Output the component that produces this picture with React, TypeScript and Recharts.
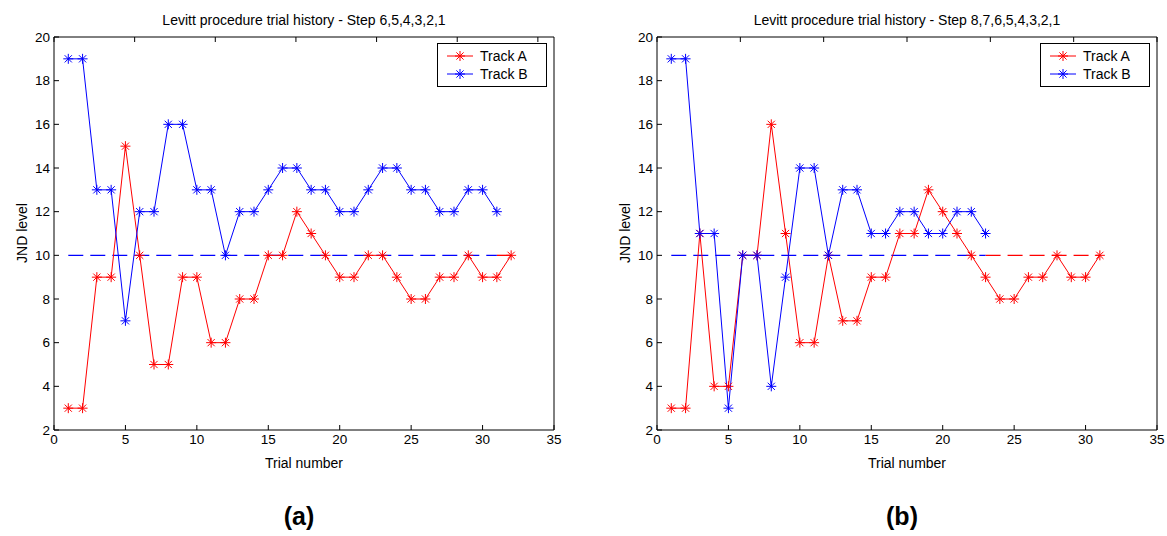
import React from "react";
import { LineChart, Line, XAxis, YAxis, ReferenceLine, Legend } from "recharts";

// trial-by-trial JND level, panel (a): step 6,5,4,3,2,1
const trackA_a = [3, 3, 9, 9, 15, 10, 5, 5, 9, 9, 6, 6, 8, 8, 10, 10, 12, 11, 10, 9, 9, 10, 10, 9, 8, 8, 9, 9, 10, 9, 9, 10];
const trackB_a = [19, 19, 13, 13, 7, 12, 12, 16, 16, 13, 13, 10, 12, 12, 13, 14, 14, 13, 13, 12, 12, 13, 14, 14, 13, 13, 12, 12, 13, 13, 12];

// panel (b): step 8,7,6,5,4,3,2,1
const trackA_b = [3, 3, 11, 4, 4, 10, 10, 16, 11, 6, 6, 10, 7, 7, 9, 9, 11, 11, 13, 12, 11, 10, 9, 8, 8, 9, 9, 10, 9, 9, 10];
const trackB_b = [19, 19, 11, 11, 3, 10, 10, 4, 9, 14, 14, 10, 13, 13, 11, 11, 12, 12, 11, 11, 12, 12, 11];

const X_TICKS = [0, 5, 10, 15, 20, 25, 30, 35];
const Y_TICKS = [2, 4, 6, 8, 10, 12, 14, 16, 18, 20];
const TARGET_LEVEL = 10;

const RED = "#ff0000";
const BLUE = "#0000ff";
const FONT = '"Liberation Sans", Arial, sans-serif';

const W = 564;
const H = 480;
// plot area: left 54, top 37, right 554, bottom 430 (panel coords)
const AX = { left: 40, right: 6, top: 10, bottom: 30 };
const M = { top: 37 - AX.top, right: W - 554 - AX.right, bottom: H - 430 - AX.bottom, left: 54 - AX.left };

function buildRows(a: number[], b: number[]) {
    const n = Math.max(a.length, b.length);
    const rows: any[] = [];
    for (let i = 0; i < n; i++) {
        rows.push({ trial: i + 1, a: a[i], b: b[i] });
    }
    return rows;
}

function Star({ cx, cy, color }: { cx?: number; cy?: number; color: string }) {
    if (cx == null || cy == null || isNaN(cx) || isNaN(cy)) return <g />;
    const r = 5;
    const d = 3.6;
    return (
        <g stroke={color} strokeWidth={1}>
            <line x1={cx - r} y1={cy} x2={cx + r} y2={cy} />
            <line x1={cx} y1={cy - r} x2={cx} y2={cy + r} />
            <line x1={cx - d} y1={cy - d} x2={cx + d} y2={cy + d} />
            <line x1={cx - d} y1={cy + d} x2={cx + d} y2={cy - d} />
        </g>
    );
}

const starDot = (color: string) => (props: any) => (
    <Star key={`s-${props.index}`} cx={props.cx} cy={props.cy} color={color} />
);

function LegendBox({ payload }: any) {
    return (
        <div
            style={{
                width: 110,
                height: 44,
                border: "1px solid #000",
                background: "#fff",
                fontFamily: FONT,
                fontSize: 14,
                paddingTop: 3,
                boxSizing: "border-box",
            }}
        >
            {(payload || []).map((p: any) => (
                <div key={p.value} style={{ display: "flex", alignItems: "center", height: 18 }}>
                    <svg width={42} height={14} style={{ marginLeft: 8 }}>
                        <line x1={1} y1={7} x2={27} y2={7} stroke={p.color} strokeWidth={1} />
                        <Star cx={14} cy={7} color={p.color} />
                    </svg>
                    <span style={{ marginLeft: -8 }}>{p.value}</span>
                </div>
            ))}
        </div>
    );
}

const tickStyle = { fill: "#000", fontSize: 13.5, fontFamily: FONT };

function Panel({ left, title, tag, trackA, trackB }: any) {
    const rows = buildRows(trackA, trackB);
    // red target line shows where the blue one (drawn over it) has ended
    const redStart = Math.min(trackA.length, trackB.length);
    return (
        <div style={{ position: "absolute", left, top: 0, width: W, height: 536 }}>
            <div
                style={{
                    position: "absolute",
                    left: 54,
                    top: 11,
                    width: 500,
                    textAlign: "center",
                    fontFamily: FONT,
                    fontSize: 14,
                    lineHeight: "18px",
                    whiteSpace: "nowrap",
                }}
            >
                {title}
            </div>
            <div
                style={{
                    position: "absolute",
                    left: 22 - 100,
                    top: 233 - 9,
                    width: 200,
                    height: 18,
                    textAlign: "center",
                    transform: "rotate(-90deg)",
                    fontFamily: FONT,
                    fontSize: 14,
                    lineHeight: "18px",
                }}
            >
                JND level
            </div>
            <div
                style={{
                    position: "absolute",
                    left: 54,
                    top: 454,
                    width: 500,
                    textAlign: "center",
                    fontFamily: FONT,
                    fontSize: 14,
                    lineHeight: "18px",
                }}
            >
                Trial number
            </div>
            <div
                style={{
                    position: "absolute",
                    left: 0,
                    top: 501,
                    width: 598,
                    textAlign: "center",
                    fontFamily: FONT,
                    fontSize: 25,
                    fontWeight: "bold",
                    lineHeight: "30px",
                }}
            >
                {tag}
            </div>
            <div style={{ position: "absolute", left: 0, top: 0 }}>
                <LineChart width={W} height={H} data={rows} margin={M}>
                    <XAxis
                        dataKey="trial"
                        type="number"
                        domain={[0, 35]}
                        ticks={X_TICKS}
                        interval={0}
                        height={AX.bottom}
                        tickSize={-5}
                        tickMargin={9}
                        stroke="#000"
                        tick={tickStyle}
                    />
                    <XAxis
                        xAxisId="top"
                        orientation="top"
                        type="number"
                        domain={[0, 35]}
                        ticks={X_TICKS}
                        interval={0}
                        height={AX.top}
                        tickSize={-5}
                        stroke="#000"
                        tickFormatter={() => ""}
                    />
                    <YAxis
                        type="number"
                        domain={[2, 20]}
                        ticks={Y_TICKS}
                        interval={0}
                        width={AX.left}
                        tickSize={-5}
                        tickMargin={9}
                        stroke="#000"
                        tick={tickStyle}
                    />
                    <YAxis
                        yAxisId="right"
                        orientation="right"
                        type="number"
                        domain={[2, 20]}
                        ticks={Y_TICKS}
                        interval={0}
                        width={AX.right}
                        tickSize={-5}
                        stroke="#000"
                        tickFormatter={() => ""}
                    />
                    {trackA.length > redStart && (
                        <ReferenceLine
                            segment={[
                                { x: redStart, y: TARGET_LEVEL },
                                { x: trackA.length, y: TARGET_LEVEL },
                            ]}
                            stroke={RED}
                            strokeWidth={1.3}
                            strokeDasharray="15 7"
                        />
                    )}
                    <ReferenceLine
                        segment={[
                            { x: 1, y: TARGET_LEVEL },
                            { x: trackB.length, y: TARGET_LEVEL },
                        ]}
                        stroke={BLUE}
                        strokeWidth={1.3}
                        strokeDasharray="15 7"
                    />
                    <Line
                        dataKey="a"
                        name="Track A"
                        type="linear"
                        stroke={RED}
                        strokeWidth={1}
                        dot={starDot(RED)}
                        activeDot={false}
                        isAnimationActive={false}
                    />
                    <Line
                        dataKey="b"
                        name="Track B"
                        type="linear"
                        stroke={BLUE}
                        strokeWidth={1}
                        dot={starDot(BLUE)}
                        activeDot={false}
                        isAnimationActive={false}
                    />
                    <Legend
                        layout="vertical"
                        align="center"
                        verticalAlign="middle"
                        content={<LegendBox />}
                        wrapperStyle={{ left: 437, top: 43, width: 110, height: 44 }}
                    />
                </LineChart>
            </div>
        </div>
    );
}

export default function App() {
    return (
        <div
            style={{
                position: "absolute",
                left: 0,
                top: 0,
                width: 1167,
                height: 536,
                overflow: "hidden",
                background: "#fff",
            }}
        >
            <Panel
                left={0}
                title="Levitt procedure trial history - Step 6,5,4,3,2,1"
                tag="(a)"
                trackA={trackA_a}
                trackB={trackB_a}
            />
            <Panel
                left={603}
                title="Levitt procedure trial history - Step 8,7,6,5,4,3,2,1"
                tag="(b)"
                trackA={trackA_b}
                trackB={trackB_b}
            />
        </div>
    );
}
